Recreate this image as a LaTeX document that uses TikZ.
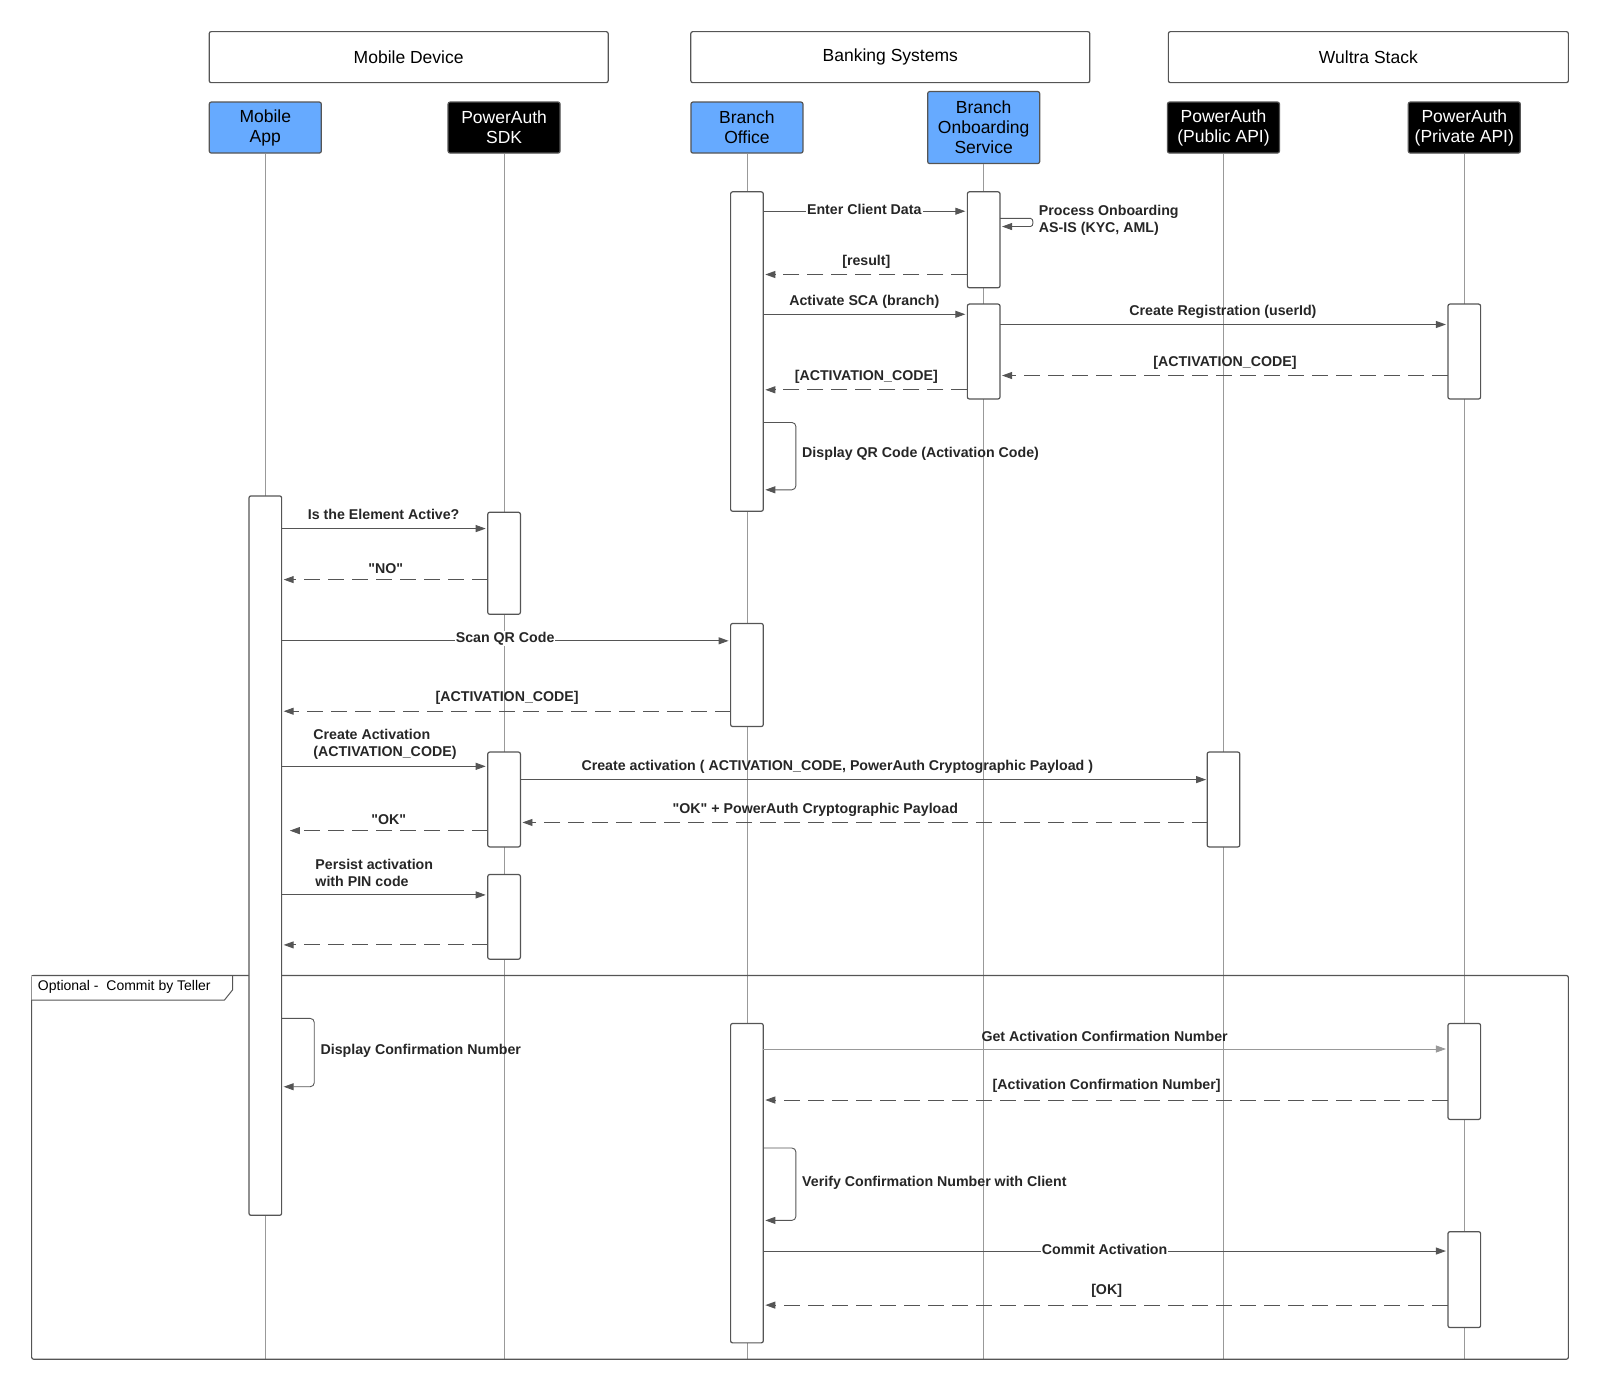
\documentclass[tikz,border=0pt]{standalone}
\usepackage{fontspec}
\setmainfont{Liberation Sans}
\usetikzlibrary{arrows.meta}
\definecolor{blu}{HTML}{66AAFF}
\definecolor{ln}{HTML}{555555}
\begin{document}
\begin{tikzpicture}[x=1.0204pt,y=-1.0204pt,
 hdr/.style={draw=ln,line width=1.2pt,rounded corners=2pt,minimum height=51pt,font=\fontsize{17.5}{19.5}\selectfont},
 part/.style={draw=ln,line width=1.2pt,rounded corners=2pt,minimum width=112pt,minimum height=51pt,align=center,font=\fontsize{17.5}{20}\selectfont,inner sep=1pt},
 bp/.style={part,fill=blu},
 kp/.style={part,fill=black,text=white},
 life/.style={draw=gray!80,line width=0.8pt},
 act/.style={draw=ln,fill=white,line width=1.2pt,rounded corners=2pt},
 msg/.style={draw=ln,line width=0.9pt,-{Triangle[length=10pt,width=7pt]}},
 ret/.style={msg,dash pattern=on 16pt off 8pt},
 lab/.style={font=\fontsize{14.2}{17}\selectfont\bfseries,text=black!85,inner sep=1pt},
 ilab/.style={lab,fill=white}]
\useasboundingbox (0,0) rectangle (1568,1364);
% headers
\node[hdr,minimum width=399pt] (md) at (400.5,56) {Mobile Device};
\node[hdr,minimum width=399pt] (bs) at (872.5,56) {Banking Systems};
\node[hdr,minimum width=400pt] (ws) at (1341,56) {Wultra Stack};
% participants
\node[bp] (pa) at (260,125) {Mobile\\App};
\node[kp] (ps) at (494,125) {PowerAuth\\SDK};
\node[bp] (pb) at (732,125) {Branch\\Office};
\node[bp,minimum height=72pt] (po) at (964,125) {Branch\\Onboarding\\Service};
\node[kp] (pu) at (1199,125) {PowerAuth\\(Public API)};
\node[kp] (pr) at (1435,125) {PowerAuth\\(Private API)};
\foreach \n/\x in {pa/260,ps/494,pb/732,po/964,pu/1199,pr/1435}
  \draw[life] (\n.south) -- (\x,1332);
% frame
\draw[ln,line width=1.2pt,rounded corners=2pt] (31,956) rectangle (1537,1332);
\draw[ln,line width=1pt,fill=white] (31,956) -- (228,956) -- (228,970) -- (220,980) -- (31,980);
\node[anchor=west,font=\fontsize{14}{15}\selectfont,inner sep=0pt] (fl) at (37,967) {Optional -\ \ Commit by Teller};
% activations
\newcommand{\actv}[4]{\draw[act] (#2-16,#3) rectangle (#2+16,#4); \coordinate (#1) at (#2,#3);}
\actv{b1}{732}{188}{501}\actv{b2}{732}{611}{712}\actv{b3}{732}{1003}{1316}
\actv{o1}{964}{188}{282}\actv{o2}{964}{298}{391}
\actv{r1}{1435}{298}{391}\actv{r2}{1435}{1003}{1097}\actv{r3}{1435}{1207}{1301}
\actv{a1}{260}{486}{1191}
\actv{s1}{494}{502}{602}\actv{s2}{494}{737}{830}\actv{s3}{494}{857}{940}
\actv{u1}{1199}{737}{830}
% messages
\draw[msg] (748,207) -- node[ilab,pos=0.5,yshift=2pt]{Enter Client Data} (946,207);
\draw[msg] (980,214) -- (1010,214) to[out=0,in=0] (1010,222) -- (982,222);
\node[lab,anchor=west,align=left] (t1) at (1017,216) {Process Onboarding\\AS-IS (KYC, AML)};
\draw[ret] (948,269) -- node[lab,above=5pt]{[result]} (750,269);
\draw[msg] (748,308) -- node[lab,above=4pt]{Activate SCA (branch)} (946,308);
\draw[msg] (980,318) -- node[lab,above=5pt]{Create Registration (userId)} (1417,318);
\draw[ret] (1419,368) -- node[lab,above=5pt]{[ACTIVATION\_CODE]} (982,368);
\draw[ret] (948,382) -- node[lab,above=5pt]{[ACTIVATION\_CODE]} (750,382);
\draw[msg] (748,414) -- (776,414) to[out=0,in=90] (780,418) -- (780,476) to[out=-90,in=0] (776,480) -- (750,480);
\node[lab,anchor=west] (t2) at (785,445) {Display QR Code (Activation Code)};
\draw[msg] (276,518) -- node[lab,above=7pt]{Is the Element Active?} (476,518);
\draw[ret] (478,568) -- node[lab,above=5pt]{\textquotedbl NO\textquotedbl} (278,568);
\draw[msg] (276,628) -- node[ilab,pos=0.5,yshift=2pt]{Scan QR Code} (714,628);
\draw[ret] (716,697) -- node[lab,above=5pt]{[ACTIVATION\_CODE]} (278,697);
\draw[msg] (276,751) -- (476,751);
\node[lab,anchor=west,align=left] (t3) at (306,729) {Create Activation\\(ACTIVATION\_CODE)};
\draw[msg] (510,764) -- node[lab,above=5pt,xshift=-26pt]{Create activation ( ACTIVATION\_CODE, PowerAuth Cryptographic Payload )} (1182,764);
\draw[ret] (1184,806) -- node[lab,above=5pt,xshift=-50pt]{\textquotedbl OK\textquotedbl\ + PowerAuth Cryptographic Payload} (512,806);
\draw[ret] (478,814) -- node[lab,above=5pt]{\textquotedbl OK\textquotedbl} (284,814);
\draw[msg] (276,877) -- (476,877);
\node[lab,anchor=west,align=left] (t4) at (308,855) {Persist activation\\with PIN code};
\draw[ret] (478,926) -- (278,926);
\draw[msg] (276,998) -- (304,998) to[out=0,in=90] (308,1002) -- (308,1061) to[out=-90,in=0] (304,1065) -- (278,1065);
\node[lab,anchor=west] (t5) at (313,1030) {Display Confirmation Number};
\draw[msg,draw=gray!80] (748,1028) -- node[lab,above=6pt]{Get Activation Confirmation Number} (1417,1028);
\draw[ret] (1419,1078) -- node[lab,above=6pt]{[Activation Confirmation Number]} (750,1078);
\draw[msg] (748,1125) -- (776,1125) to[out=0,in=90] (780,1129) -- (780,1192) to[out=-90,in=0] (776,1196) -- (750,1196);
\node[lab,anchor=west] (t6) at (785,1159) {Verify Confirmation Number with Client};
\draw[msg] (748,1226) -- node[ilab,pos=0.5,yshift=2pt]{Commit Activation} (1417,1226);
\draw[ret] (1419,1279) -- node[lab,above=6pt]{[OK]} (750,1279);
\end{tikzpicture}
\end{document}
